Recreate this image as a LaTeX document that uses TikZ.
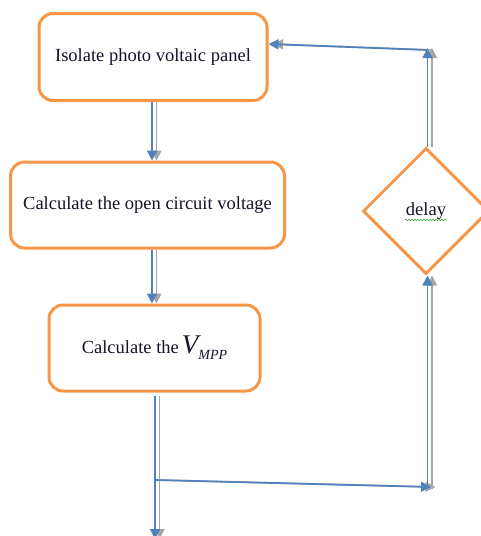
\documentclass[tikz,border=0pt]{standalone}
\usepackage{fontspec}
\setmainfont{Liberation Serif}
\usetikzlibrary{shapes.geometric,arrows.meta,decorations.pathmorphing}
\definecolor{boxorange}{RGB}{247,150,70}
\definecolor{linkblue}{RGB}{79,129,189}
\definecolor{shadowgray}{RGB}{165,165,165}
\definecolor{spellgreen}{RGB}{60,170,60}
\definecolor{txt}{RGB}{20,20,40}
\newcommand\linkpair[1]{\draw[gl,transform canvas={xshift=4.5pt}] #1; \draw[bl] #1;}
\begin{document}
\begin{tikzpicture}[x=1pt,y=-1pt,
 box/.style={draw=boxorange,line width=3pt,rounded corners=14pt,fill=white,align=center,inner sep=0pt,text=txt,font=\fontsize{18.5}{22}\selectfont},
 dia/.style={draw=boxorange,line width=3pt,shape=diamond,aspect=1,minimum width=126pt,minimum height=126pt,inner sep=0pt,fill=white,text=txt,font=\fontsize{18.5}{22}\selectfont},
 bl/.style={draw=linkblue,line width=1.7pt,-{Triangle[length=10pt,width=10pt]}},
 gl/.style={draw=shadowgray,line width=1.7pt,-{Triangle[length=10pt,width=10pt]}}]
\useasboundingbox (0,0) rectangle (480,536);
\node[box,minimum width=228pt,minimum height=87pt] (b1) at (153,57) {Isolate photo voltaic panel};
\node[box,minimum width=274pt,minimum height=86pt] (b2) at (147.5,205) {Calculate the open circuit voltage};
\node[box,minimum width=211pt,minimum height=86pt] (b3) at (154.5,348) {Calculate the\,{\fontsize{27}{27}\selectfont\itshape V}\raisebox{-6pt}{\fontsize{14}{14}\selectfont\itshape MPP}};
\node[dia] (d) at (426,211) {delay};
\coordinate (e) at (155,539);
\coordinate (j) at (155,480);
\coordinate (c1) at (431,487);
\coordinate (c2) at (427.5,489);
\coordinate (t1) at (427.5,48);
\coordinate (t2) at (427.5,50);
\linkpair{([xshift=-1pt]b1.south) -- ([xshift=4.5pt]b2.north)}
\linkpair{([xshift=4.5pt]b2.south) -- ([xshift=-2.5pt]b3.north)}
\linkpair{([xshift=0.5pt,yshift=-3pt]b3.south) -- (e)}
\linkpair{(j) -- (c1)}
\linkpair{(c2) -- ([xshift=1.5pt]d.south)}
\linkpair{([xshift=1.5pt]d.north) -- (t1)}
\linkpair{(t2) -- ([yshift=13pt]b1.east)}
\draw[spellgreen,line width=0.6pt,decorate,decoration={snake,amplitude=0.8pt,segment length=3pt}] ([xshift=-21pt,yshift=-9pt]d.center) -- ([xshift=21pt,yshift=-9pt]d.center);
\end{tikzpicture}
\end{document}
